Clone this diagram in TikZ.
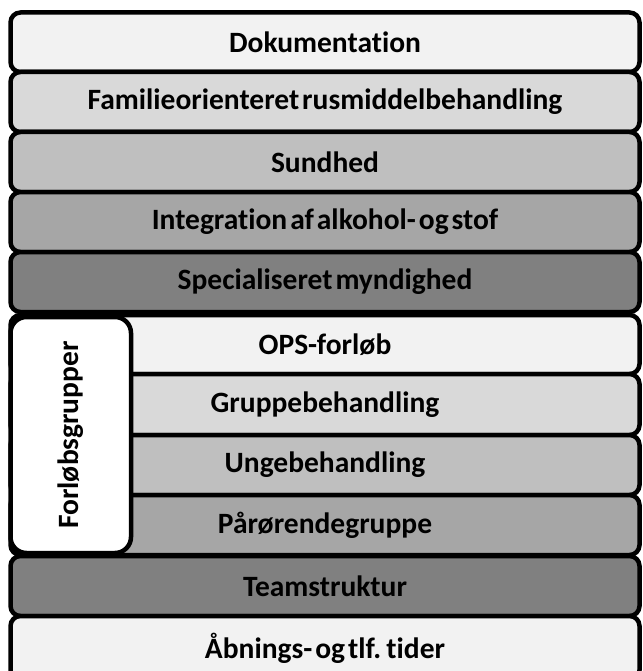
\documentclass[tikz,border=0pt]{standalone}
\usepackage{fontspec}
\setmainfont{Carlito}[RawFeature={-liga}]
\definecolor{shadeA}{HTML}{F2F2F2}
\definecolor{shadeB}{HTML}{D9D9D9}
\definecolor{shadeC}{HTML}{BFBFBF}
\definecolor{shadeD}{HTML}{A6A6A6}
\definecolor{shadeE}{HTML}{808080}
\newcommand{\layerfont}{\fontsize{29.5}{34}\selectfont\bfseries\spaceskip=0.1em plus 0.02em\relax}
\tikzset{
  layer/.style={draw=black, line width=4.5pt, rounded corners=10pt,
    minimum width=629pt, inner sep=0pt, outer sep=0pt,
    font=\layerfont, text=black},
  panel/.style={draw=black, fill=white, line width=4.5pt, rounded corners=16pt,
    inner sep=0pt, outer sep=0pt, rotate=90,
    minimum width=236pt, minimum height=120.5pt,
    font=\layerfont, text=black},
}
\begin{document}
\begin{tikzpicture}[x=1pt,y=-1pt]
\useasboundingbox (0,0) rectangle (642,671);
% upper stack
\node[layer, fill=shadeA, minimum height=59.5pt] (dok)   at (325,42.25) {Dokumentation};
\node[layer, fill=shadeB, minimum height=60pt]   (fam)   at (325,102) {Familieorienteret rusmiddelbehandling};
\node[layer, fill=shadeC, minimum height=60pt]   (sund)  at (325,162) {Sundhed};
\node[layer, fill=shadeD, minimum height=60pt]   (integ) at (325,222) {Integration af alkohol- og stof};
\node[layer, fill=shadeE, minimum height=60pt]   (spec)  at (325,282) {Specialiseret myndighed};
% course groups
\node[layer, fill=shadeA, minimum height=59pt]   (ops)   at (325,344.5) {OPS-forløb};
\node[layer, fill=shadeB, minimum height=61pt]   (grup)  at (325,404.5) {Gruppebehandling};
\node[layer, fill=shadeC, minimum height=60pt]   (unge)  at (325,465) {Ungebehandling};
\node[layer, fill=shadeD, minimum height=60pt]   (paar)  at (325,525) {Pårørendegruppe};
\node[panel] (forl) at (70.75,435) {Forløbsgrupper};
% lower stack
\node[layer, fill=shadeE, minimum height=60pt]   (team)  at (325,586) {Teamstruktur};
\node[layer, fill=shadeA, minimum height=64pt]   (aab)   at (325,648) {Åbnings- og tlf. tider};
\end{tikzpicture}
\end{document}
